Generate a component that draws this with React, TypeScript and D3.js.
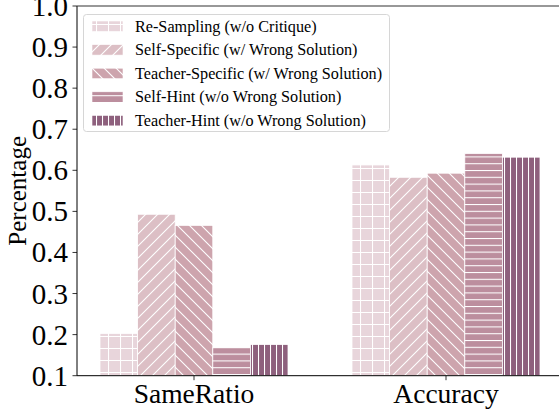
import React from "react";
import * as d3 from "d3";

const categories = ["SameRatio", "Accuracy"];
const seriesNames = [
  "Re-Sampling (w/o Critique)",
  "Self-Specific (w/ Wrong Solution)",
  "Teacher-Specific (w/ Wrong Solution)",
  "Self-Hint (w/o Wrong Solution)",
  "Teacher-Hint (w/o Wrong Solution)",
];
const sameRatioValues = [0.203, 0.493, 0.466, 0.168, 0.176];
const accuracyValues = [0.613, 0.583, 0.593, 0.641, 0.632];
const yTicks = [0.1, 0.2, 0.3, 0.4, 0.5, 0.6, 0.7, 0.8, 0.9, 1.0];
const seriesColors = ["#e8d5db", "#dcbfc5", "#cda4ad", "#bc8e9e", "#8e607d"];
const hatchKinds = ["grid", "fwd", "back", "horiz", "vert"];

const W = 559;
const H = 414;
const M = { left: 77, right: 0, top: 6, bottom: 38 };
const FONT = "'Liberation Serif', 'Times New Roman', serif";

function HatchPattern({ id, kind, color }: { id: string; kind: string; color: string }) {
  const s = "#ffffff";
  const sw = 1.1;
  if (kind === "grid") {
    return (
      <pattern id={id} patternUnits="userSpaceOnUse" width={12} height={12}>
        <rect width={12} height={12} fill={color} />
        <path d="M0,0.5 H12 M0.5,0 V12" stroke={s} strokeWidth={sw} />
      </pattern>
    );
  }
  if (kind === "fwd" || kind === "back") {
    const d =
      kind === "fwd"
        ? "M0,12 L12,0 M-3,3 L3,-3 M9,15 L15,9"
        : "M0,0 L12,12 M-3,9 L3,15 M9,-3 L15,3";
    return (
      <pattern id={id} patternUnits="userSpaceOnUse" width={12} height={12}>
        <rect width={12} height={12} fill={color} />
        <path d={d} stroke={s} strokeWidth={sw} />
      </pattern>
    );
  }
  if (kind === "horiz") {
    return (
      <pattern id={id} patternUnits="userSpaceOnUse" width={6.8} height={6.8}>
        <rect width={6.8} height={6.8} fill={color} />
        <path d="M0,0.5 H6.8" stroke={s} strokeWidth={sw} />
      </pattern>
    );
  }
  return (
    <pattern id={id} patternUnits="userSpaceOnUse" width={6} height={6}>
      <rect width={6} height={6} fill={color} />
      <path d="M0.5,0 V6" stroke={s} strokeWidth={sw} />
    </pattern>
  );
}

export default function App() {
  const values = [sameRatioValues, accuracyValues];
  const y = d3.scaleLinear().domain([0.1, 1.0]).range([375.7, M.top]);
  const x0 = d3
    .scaleBand<string>()
    .domain(categories)
    .range([M.left - 9, M.left + 2 * 252 - 9]);
  const groupWidth = 188;
  const x1 = d3.scaleBand<string>().domain(seriesNames).range([0, groupWidth]);
  const centerOf = (c: string) => (x0(c) as number) + x0.bandwidth() / 2;
  const baseY = y(0.1);

  return (
    <svg
      width={W}
      height={H}
      style={{ position: "absolute", left: 0, top: 0, background: "#fff" }}
      fontFamily={FONT}
    >
      <defs>
        {seriesNames.map((n, i) => (
          <HatchPattern key={n} id={`hatch-${i}`} kind={hatchKinds[i]} color={seriesColors[i]} />
        ))}
      </defs>

      {/* bars */}
      {categories.map((c, ci) => {
        const gx = centerOf(c) - groupWidth / 2;
        return (
          <g key={c}>
            {seriesNames.map((n, si) => {
              const v = values[ci][si];
              const bx = gx + (x1(n) as number);
              return (
                <rect
                  key={n}
                  x={bx}
                  y={y(v)}
                  width={x1.bandwidth()}
                  height={baseY - y(v)}
                  fill={`url(#hatch-${si})`}
                  stroke="#ffffff"
                  strokeWidth={0.8}
                />
              );
            })}
          </g>
        );
      })}

      {/* spines */}
      <line x1={M.left} x2={M.left} y1={M.top} y2={baseY} stroke="#000" strokeWidth={1} />
      <line x1={M.left} x2={W} y1={baseY} y2={baseY} stroke="#000" strokeWidth={1} />
      <line x1={M.left} x2={W} y1={M.top} y2={M.top} stroke="#333" strokeWidth={1.2} />

      {/* y axis */}
      {yTicks.map((t) => (
        <g key={t}>
          <line x1={M.left - 4.5} x2={M.left} y1={y(t)} y2={y(t)} stroke="#000" strokeWidth={0.8} />
          <text
            x={M.left - 9}
            y={y(t) + 10}
            textAnchor="end"
            fontSize={29}
            fill="#000"
          >
            {d3.format(".1f")(t)}
          </text>
        </g>
      ))}
      <text
        transform={`translate(${26},${(M.top + baseY) / 2}) rotate(-90)`}
        textAnchor="middle"
        fontSize={25}
        fill="#000"
      >
        Percentage
      </text>

      {/* x axis */}
      {categories.map((c) => (
        <g key={c}>
          <line x1={centerOf(c)} x2={centerOf(c)} y1={baseY} y2={baseY + 4.5} stroke="#000" strokeWidth={0.8} />
          <text x={centerOf(c)} y={403} textAnchor="middle" fontSize={27.5} fill="#000">
            {c}
          </text>
        </g>
      ))}

      {/* legend */}
      <g>
        <rect x={83.5} y={14.5} width={306} height={117} rx={3} fill="#fff" fillOpacity={0.8} stroke="#d6d6d6" strokeWidth={1} />
        {seriesNames.map((n, i) => {
          const ry = 26 + i * 23.6;
          return (
            <g key={n}>
              <rect x={92} y={ry - 5} width={31} height={10.5} fill={`url(#hatch-${i})`} stroke="#fff" strokeWidth={0.6} />
              <text x={135} y={ry + 5.5} fontSize={16.2} fill="#000">
                {n}
              </text>
            </g>
          );
        })}
      </g>
    </svg>
  );
}
